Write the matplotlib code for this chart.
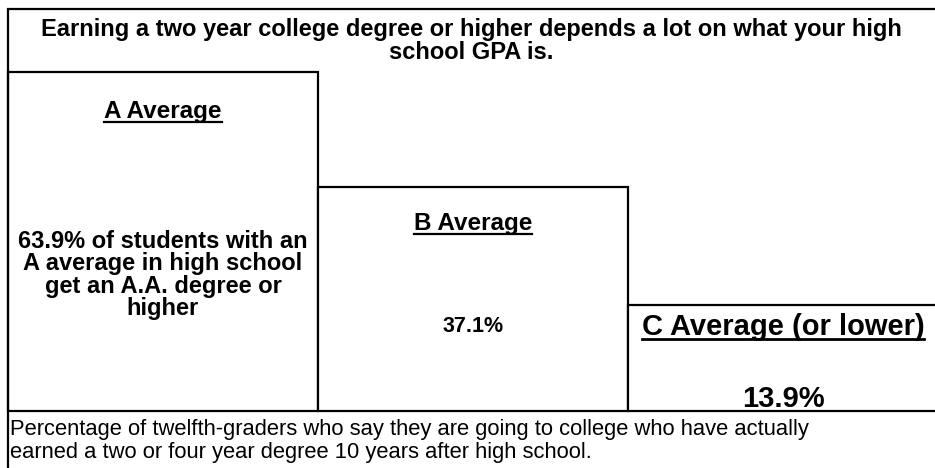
import matplotlib
matplotlib.use("Agg")

import numpy as np
import matplotlib.pyplot as plt
from matplotlib.patches import Rectangle
from matplotlib.lines import Line2D
from matplotlib.transforms import blended_transform_factory

# data
grades = ["A Average", "B Average", "C Average (or lower)"]
pct = [63.9, 37.1, 13.9]
value_labels = [
    "63.9% of students with an\nA average in high school\nget an A.A. degree or\nhigher",
    "37.1%",
    "13.9%",
]
title = ("Earning a two year college degree or higher depends a lot on what your high\n"
         "school GPA is.")
caption = ("Percentage of twelfth-graders who say they are going to college who have actually\n"
           "earned a two or four year degree 10 years after high school.")

W, H = 935, 468
plt.rcParams["font.family"] = ["Liberation Sans", "DejaVu Sans"]


def fx(px):
    return px / W


def fy(py):
    return 1 - py / H


fig = plt.figure(figsize=(W / 100, H / 100), dpi=100)
fig.patch.set_facecolor("white")

# outer frame, runs off the right and bottom edge like the original crop
fig.add_artist(Rectangle((fx(8), fy(490)), fx(960 - 8), fy(9) - fy(490),
                         transform=fig.transFigure, fill=False,
                         edgecolor="black", linewidth=1.6))

# bars: three columns of ~310 px, last one cut by the image edge
ax = fig.add_axes([fx(8), fy(411), fx(930), fy(72) - fy(411)])
power = 0.76
ax.set_yscale("function", functions=(
    lambda v: np.clip(v, 0, None) ** power,
    lambda v: np.clip(v, 0, None) ** (1 / power)))
ax.set_xlim(0, 3)
ax.set_ylim(0, max(pct))
bars = ax.bar(np.arange(len(pct)), pct, width=1, align="edge",
              color="white", edgecolor="black", linewidth=1.6, clip_on=False)
ax.axis("off")

tr = blended_transform_factory(ax.transData, fig.transFigure)

fig.text(fx(471), fy(41), title, ha="center", va="center",
         fontsize=17, fontweight="bold", linespacing=1.0)

head_y = [118, 230, 335]
head_size = [17.5, 17.5, 21]
val_y = [275, 326, 399]
val_size = [17, 15.5, 21]
heads = []
for i in range(len(grades)):
    t = ax.text(i + 0.5, fy(head_y[i]), grades[i], transform=tr,
                ha="center", va="baseline", fontsize=head_size[i],
                fontweight="bold")
    heads.append(t)
    ax.text(i + 0.5, fy(val_y[i]), value_labels[i], transform=tr,
            ha="center", va="center", fontsize=val_size[i],
            fontweight="bold", linespacing=0.98)

fig.text(fx(10), fy(441), caption, ha="left", va="center",
         fontsize=15.8, linespacing=1.18)

# underline the column headings
fig.canvas.draw()
renderer = fig.canvas.get_renderer()
for i, t in enumerate(heads):
    bb = t.get_window_extent(renderer)
    uy = fy(head_y[i] + 4)
    fig.add_artist(Line2D([bb.x0 / W, bb.x1 / W], [uy, uy],
                          transform=fig.transFigure, color="black",
                          linewidth=1.6 if i < 2 else 2.0))

fig.savefig("out.png", dpi=100, facecolor="white")
plt.close(fig)
